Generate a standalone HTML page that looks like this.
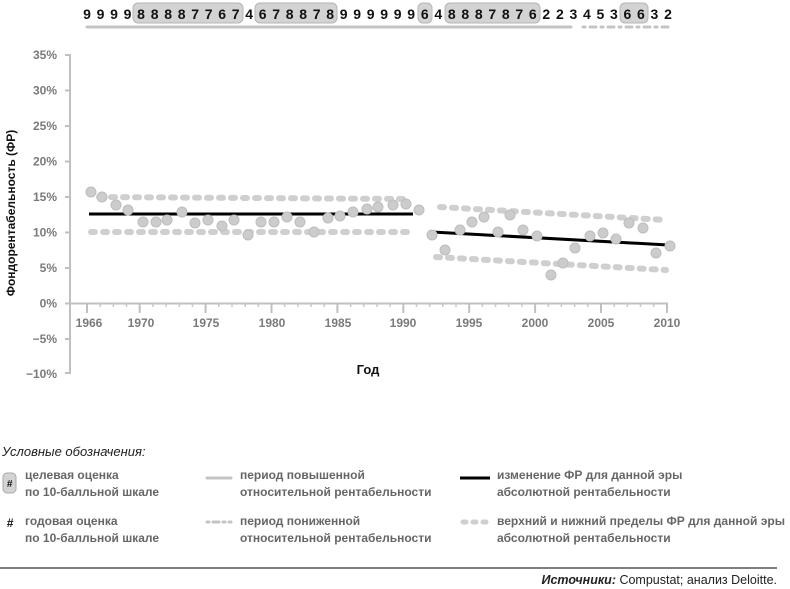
<!DOCTYPE html>
<html><head><meta charset="utf-8"><style>
body{margin:0;background:#fff;}
svg{display:block;font-family:"Liberation Sans",sans-serif;}
</style></head><body>
<svg width="790" height="589" viewBox="0 0 790 589" xmlns="http://www.w3.org/2000/svg">
<!-- top score row -->
<g fill="#d3d3d3" stroke="#b5b5b5" stroke-width="1">
<rect x="133" y="3" width="110" height="20" rx="5"/>
<rect x="255" y="3" width="82" height="20" rx="5"/>
<rect x="418" y="3" width="14" height="20" rx="5"/>
<rect x="445" y="3" width="95" height="20" rx="5"/>
<rect x="620" y="3" width="28" height="20" rx="5"/>
</g>
<text y="19" font-size="14" font-weight="bold" fill="#111" text-anchor="middle">
<tspan x="87">9</tspan><tspan x="100.5">9</tspan><tspan x="114">9</tspan><tspan x="127.5">9</tspan><tspan x="141">8</tspan><tspan x="154.6">8</tspan><tspan x="168.1">8</tspan><tspan x="181.6">8</tspan><tspan x="195.1">7</tspan><tspan x="208.6">7</tspan><tspan x="222.1">6</tspan><tspan x="235.6">7</tspan><tspan x="249.1">4</tspan><tspan x="262.6">6</tspan><tspan x="276.1">7</tspan><tspan x="289.7">8</tspan><tspan x="303.2">8</tspan><tspan x="316.7">7</tspan><tspan x="330.2">8</tspan><tspan x="343.7">9</tspan><tspan x="357.2">9</tspan><tspan x="370.7">9</tspan><tspan x="384.2">9</tspan><tspan x="397.7">9</tspan><tspan x="411.2">9</tspan><tspan x="424.8">6</tspan><tspan x="438.3">4</tspan><tspan x="451.8">8</tspan><tspan x="465.3">8</tspan><tspan x="478.8">8</tspan><tspan x="492.3">7</tspan><tspan x="505.8">8</tspan><tspan x="519.3">7</tspan><tspan x="532.8">6</tspan><tspan x="546.3">2</tspan><tspan x="559.9">2</tspan><tspan x="573.4">3</tspan><tspan x="586.9">4</tspan><tspan x="600.4">5</tspan><tspan x="613.9">3</tspan><tspan x="627.4">6</tspan><tspan x="640.9">6</tspan><tspan x="654.4">3</tspan><tspan x="668">2</tspan></text>
<line x1="87" y1="27" x2="571" y2="27" stroke="#c4c4c4" stroke-width="3" stroke-linecap="round"/>
<line x1="583" y1="27" x2="670" y2="27" stroke="#c4c4c4" stroke-width="3" stroke-linecap="round" stroke-dasharray="2 5 6 5"/>

<!-- axes -->
<g stroke="#c0c0c0" stroke-width="2" fill="none">
<line x1="70" y1="54" x2="70" y2="374"/>
<line x1="70" y1="303.5" x2="668" y2="303.5"/>
<line x1="65" y1="55" x2="70" y2="55"/><line x1="65" y1="90.5" x2="70" y2="90.5"/><line x1="65" y1="126" x2="70" y2="126"/><line x1="65" y1="161.5" x2="70" y2="161.5"/><line x1="65" y1="197" x2="70" y2="197"/><line x1="65" y1="232.5" x2="70" y2="232.5"/><line x1="65" y1="268" x2="70" y2="268"/><line x1="65" y1="303.5" x2="70" y2="303.5"/><line x1="65" y1="339" x2="70" y2="339"/><line x1="65" y1="373" x2="70" y2="373"/>
<line x1="87" y1="303" x2="87" y2="313"/><line x1="139.7" y1="303" x2="139.7" y2="313"/><line x1="205.6" y1="303" x2="205.6" y2="313"/><line x1="271.5" y1="303" x2="271.5" y2="313"/><line x1="337.4" y1="303" x2="337.4" y2="313"/><line x1="403.3" y1="303" x2="403.3" y2="313"/><line x1="469.2" y1="303" x2="469.2" y2="313"/><line x1="535.1" y1="303" x2="535.1" y2="313"/><line x1="601" y1="303" x2="601" y2="313"/><line x1="667" y1="303" x2="667" y2="313"/>
</g>
<g stroke="#c8c8c8" stroke-width="1.5">
<line x1="100.2" y1="303" x2="100.2" y2="307"/><line x1="113.4" y1="303" x2="113.4" y2="307"/><line x1="126.5" y1="303" x2="126.5" y2="307"/><line x1="152.9" y1="303" x2="152.9" y2="307"/><line x1="166.1" y1="303" x2="166.1" y2="307"/><line x1="179.3" y1="303" x2="179.3" y2="307"/><line x1="192.4" y1="303" x2="192.4" y2="307"/><line x1="218.8" y1="303" x2="218.8" y2="307"/><line x1="232" y1="303" x2="232" y2="307"/><line x1="245.2" y1="303" x2="245.2" y2="307"/><line x1="258.3" y1="303" x2="258.3" y2="307"/><line x1="284.7" y1="303" x2="284.7" y2="307"/><line x1="297.9" y1="303" x2="297.9" y2="307"/><line x1="311.1" y1="303" x2="311.1" y2="307"/><line x1="324.2" y1="303" x2="324.2" y2="307"/><line x1="350.6" y1="303" x2="350.6" y2="307"/><line x1="363.8" y1="303" x2="363.8" y2="307"/><line x1="377" y1="303" x2="377" y2="307"/><line x1="390.1" y1="303" x2="390.1" y2="307"/><line x1="416.5" y1="303" x2="416.5" y2="307"/><line x1="429.7" y1="303" x2="429.7" y2="307"/><line x1="442.8" y1="303" x2="442.8" y2="307"/><line x1="456" y1="303" x2="456" y2="307"/><line x1="482.4" y1="303" x2="482.4" y2="307"/><line x1="495.6" y1="303" x2="495.6" y2="307"/><line x1="508.7" y1="303" x2="508.7" y2="307"/><line x1="521.9" y1="303" x2="521.9" y2="307"/><line x1="548.3" y1="303" x2="548.3" y2="307"/><line x1="561.4" y1="303" x2="561.4" y2="307"/><line x1="574.6" y1="303" x2="574.6" y2="307"/><line x1="587.8" y1="303" x2="587.8" y2="307"/><line x1="614.2" y1="303" x2="614.2" y2="307"/><line x1="627.3" y1="303" x2="627.3" y2="307"/><line x1="640.5" y1="303" x2="640.5" y2="307"/><line x1="653.7" y1="303" x2="653.7" y2="307"/>
</g>
<g font-size="12" font-weight="bold" fill="#7a7a7a" text-anchor="end">
<text x="57" y="59">35%</text><text x="57" y="94.5">30%</text><text x="57" y="130">25%</text><text x="57" y="165.5">20%</text><text x="57" y="201">15%</text><text x="57" y="236.5">10%</text><text x="57" y="272">5%</text><text x="57" y="307.5">0%</text><text x="57" y="343">−5%</text><text x="57" y="378">−10%</text>
</g>
<g font-size="12" font-weight="bold" fill="#7a7a7a" text-anchor="middle">
<text x="89" y="327">1966</text><text x="141" y="327">1970</text><text x="206" y="327">1975</text><text x="272" y="327">1980</text><text x="338" y="327">1985</text><text x="403" y="327">1990</text><text x="469" y="327">1995</text><text x="535" y="327">2000</text><text x="601" y="327">2005</text><text x="667" y="327">2010</text>
</g>
<text transform="translate(15,213) rotate(-90)" font-size="12" font-weight="bold" fill="#111" text-anchor="middle">Фондорентабельность (ФР)</text>
<text x="368" y="374" font-size="13" font-weight="bold" fill="#111" text-anchor="middle">Год</text>

<!-- dashed bands -->
<g stroke="#cfcfcf" stroke-width="6" stroke-linecap="round" stroke-dasharray="4 8" fill="none">
<line x1="99" y1="197" x2="405" y2="199"/>
<line x1="91" y1="232" x2="408" y2="232"/>
<line x1="440" y1="207" x2="666" y2="220"/>
<line x1="436" y1="257" x2="666" y2="270"/>
</g>
<!-- trend lines -->
<line x1="89" y1="214" x2="413" y2="214" stroke="#000" stroke-width="3"/>
<line x1="432" y1="232" x2="668" y2="245" stroke="#000" stroke-width="3"/>
<!-- points -->
<g fill="#cccccc" stroke="#bdbdbd" stroke-width="1">
<circle cx="91" cy="192" r="5"/><circle cx="102" cy="197" r="5"/><circle cx="116" cy="205" r="5"/><circle cx="128" cy="210" r="5"/><circle cx="143" cy="222" r="5"/><circle cx="156" cy="222" r="5"/><circle cx="167" cy="220" r="5"/><circle cx="182" cy="212" r="5"/><circle cx="195" cy="223" r="5"/><circle cx="208" cy="220" r="5"/><circle cx="222" cy="226" r="5"/><circle cx="234" cy="220" r="5"/><circle cx="248" cy="235" r="5"/><circle cx="261" cy="222" r="5"/><circle cx="274" cy="222" r="5"/><circle cx="287" cy="217" r="5"/><circle cx="300" cy="222" r="5"/><circle cx="314" cy="232" r="5"/><circle cx="328" cy="218" r="5"/><circle cx="340" cy="216" r="5"/><circle cx="353" cy="212" r="5"/><circle cx="367" cy="209" r="5"/><circle cx="378" cy="207" r="5"/><circle cx="393" cy="205" r="5"/><circle cx="406" cy="204" r="5"/><circle cx="419" cy="210" r="5"/>
<circle cx="432" cy="235" r="5"/><circle cx="445" cy="250" r="5"/><circle cx="460" cy="230" r="5"/><circle cx="472" cy="222" r="5"/><circle cx="484" cy="217" r="5"/><circle cx="498" cy="232" r="5"/><circle cx="510" cy="215" r="5"/><circle cx="523" cy="230" r="5"/><circle cx="537" cy="236" r="5"/><circle cx="551" cy="275" r="5"/><circle cx="563" cy="263" r="5"/><circle cx="575" cy="248" r="5"/><circle cx="590" cy="236" r="5"/><circle cx="603" cy="233" r="5"/><circle cx="616" cy="239" r="5"/><circle cx="629" cy="223" r="5"/><circle cx="643" cy="228" r="5"/><circle cx="656" cy="253" r="5"/><circle cx="670" cy="246" r="5"/>
</g>

<!-- legend -->
<text x="2" y="456" font-size="13" font-style="italic" fill="#222">Условные обозначения:</text>
<rect x="3" y="473" width="13" height="20" rx="4" fill="#d3d3d3" stroke="#aaa"/>
<text x="9.5" y="487" font-size="10" font-weight="bold" font-style="italic" fill="#111" text-anchor="middle">#</text>
<text x="10" y="527" font-size="12" font-weight="bold" font-style="italic" fill="#111" text-anchor="middle">#</text>
<g font-size="12" font-weight="bold" fill="#666">
<text x="25" y="479">целевая оценка</text><text x="25" y="496">по 10-балльной шкале</text>
<text x="25" y="525">годовая оценка</text><text x="25" y="542">по 10-балльной шкале</text>
<text x="240" y="479">период повышенной</text><text x="240" y="496">относительной рентабельности</text>
<text x="240" y="525">период пониженной</text><text x="240" y="542">относительной рентабельности</text>
<text x="497" y="479">изменение ФР для данной эры</text><text x="497" y="496">абсолютной рентабельности</text>
<text x="497" y="525" textLength="288" lengthAdjust="spacingAndGlyphs">верхний и нижний пределы ФР для данной эры</text><text x="497" y="542">абсолютной рентабельности</text>
</g>
<line x1="207" y1="478" x2="231" y2="478" stroke="#c4c4c4" stroke-width="3" stroke-linecap="round"/>
<line x1="207" y1="522" x2="231" y2="522" stroke="#c4c4c4" stroke-width="3" stroke-linecap="round" stroke-dasharray="2 4 6 4"/>
<line x1="460" y1="478" x2="490" y2="478" stroke="#000" stroke-width="3"/>
<line x1="463" y1="522" x2="490" y2="522" stroke="#cfcfcf" stroke-width="5" stroke-linecap="round" stroke-dasharray="3 7"/>
<line x1="0" y1="568" x2="777" y2="568" stroke="#555" stroke-width="1.5"/>
<text x="777" y="584" font-size="12.5" fill="#222" text-anchor="end"><tspan font-weight="bold" font-style="italic">Источники:</tspan> Compustat; анализ Deloitte.</text>
</svg>
</body></html>
